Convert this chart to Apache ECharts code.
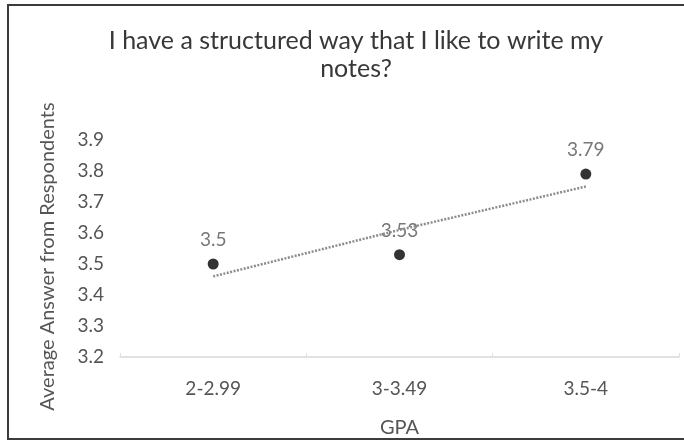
<!DOCTYPE html>
<html>
<head>
<meta charset="utf-8">
<script src="https://cdn.jsdelivr.net/npm/echarts@6/dist/echarts.min.js"></script>
<style>
  html, body { margin: 0; padding: 0; background: #fff; }
  #chart { position: absolute; left: 0; top: 0; width: 684px; height: 444px; }
  #frame {
    position: absolute; left: 7px; top: 4px; width: 690px; height: 432px;
    border: 2px solid #3c3c3c; pointer-events: none;
  }
</style>
</head>
<body>
<div id="chart"></div>
<div id="frame"></div>
<script>
// GPA bands and the average answer for each
const gpaBands = ['2-2.99', '3-3.49', '3.5-4'];
const averageAnswers = [3.5, 3.53, 3.79];
// linear trend line through the averages
const trendValues = [3.46, 3.61, 3.75];
// value axis range
const yTicks = [3.2, 3.3, 3.4, 3.5, 3.6, 3.7, 3.8, 3.9];

const textGray = '#555555';
const font = 'Lato, "Open Sans", sans-serif';

const chart = echarts.init(document.getElementById('chart'), null, { renderer: 'canvas' });

chart.setOption({
  animation: false,
  title: {
    text: 'I have a structured way that I like to write my\nnotes?',
    left: 351,
    textAlign: 'center',
    top: 22,
    textStyle: { fontFamily: font, fontSize: 25, fontWeight: 'normal', color: '#383838', lineHeight: 28 }
  },
  grid: { left: 120, right: 5, top: 140, bottom: 87 },
  xAxis: {
    type: 'category', data: gpaBands,
    name: 'GPA', nameLocation: 'middle', nameGap: 61,
    nameTextStyle: { fontFamily: font, fontSize: 20, color: textGray },
    axisLine: { show: true, lineStyle: { color: '#d9d9d9', width: 1.5 } },
    axisTick: { show: true, length: 4, inside: true, lineStyle: { color: '#e0e0e0' } },
    axisLabel: { fontFamily: font, fontSize: 19, color: textGray, margin: 22 }
  },
  yAxis: {
    type: 'value',
    min: yTicks[0], max: yTicks[yTicks.length - 1], interval: 0.1,
    name: 'Average Answer from Respondents', nameLocation: 'middle', nameGap: 62,
    nameTextStyle: { fontFamily: font, fontSize: 20, color: textGray, padding: [0, 16, 0, 0] },
    axisLine: { show: false }, axisTick: { show: false },
    splitLine: { show: false },
    axisLabel: { fontFamily: font, fontSize: 19, color: textGray, margin: 16,
      formatter: v => (Math.round(v * 10) / 10).toFixed(1) }
  },
  series: [
    {
      type: 'line',
      data: trendValues, symbol: 'none', silent: true,
      lineStyle: { color: '#8c8c8c', width: 2.5, type: [2, 1.5] }
    },
    {
      type: 'scatter',
      data: averageAnswers, symbol: 'circle', symbolSize: 11,
      itemStyle: { color: '#000' },
      label: { show: true, position: 'top', distance: 9,
        fontFamily: font, fontSize: 19, color: textGray }
    }
  ]
});
</script>
</body>
</html>
